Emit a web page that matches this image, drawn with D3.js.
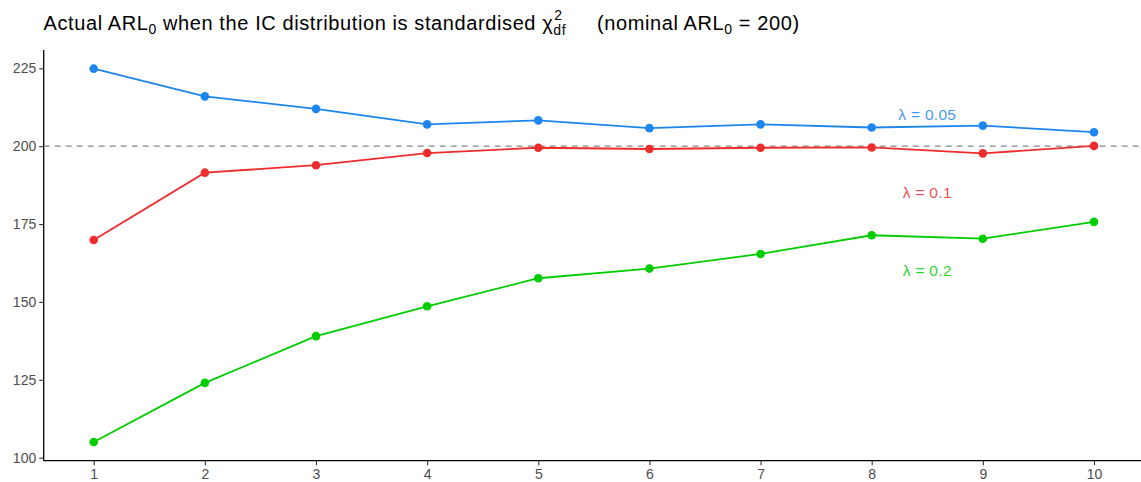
<!DOCTYPE html>
<html>
<head>
<meta charset="utf-8">
<script src="https://cdn.jsdelivr.net/npm/d3@7"></script>
<style>
  body { margin: 0; background: #fff; }
  text { font-family: "Liberation Sans", Arial, sans-serif; }
</style>
</head>
<body>
<svg id="chart"></svg>
<script>
// data
const df = [1, 2, 3, 4, 5, 6, 7, 8, 9, 10];
const arl005 = [224.9, 216.0, 212.0, 207.0, 208.3, 205.8, 207.0, 206.0, 206.6, 204.5];
const arl01 = [169.9, 191.5, 193.9, 197.8, 199.5, 199.1, 199.5, 199.6, 197.7, 200.1];
const arl02 = [105.0, 124.0, 139.0, 148.6, 157.6, 160.7, 165.4, 171.4, 170.3, 175.7];
const lambdas = ["0.05", "0.1", "0.2"];
const colours = ["#1C86EE", "#EE2C2C", "#00CD00"];
const labelX = [8.5, 8.5, 8.5];
const labelY = [210, 185, 160];
const nominal = 200;
const yTicks = [100, 125, 150, 175, 200, 225];

const width = 1141, height = 482;
const margin = {top: 50, right: -3, bottom: 21.3, left: 43.7};

const svg = d3.select("#chart")
    .attr("width", width)
    .attr("height", height);

const series = [arl005, arl01, arl02];

// ggplot style 5% expansion
const allY = series.flat();
const yMin = d3.min(allY), yMax = d3.max(allY);
const yPad = (yMax - yMin) * 0.05;
const xPad = (d3.max(df) - d3.min(df)) * 0.05;

const x = d3.scaleLinear()
    .domain([d3.min(df) - xPad, d3.max(df) + xPad])
    .range([margin.left, width - margin.right]);
const y = d3.scaleLinear()
    .domain([yMin - yPad, yMax + yPad])
    .range([height - margin.bottom, margin.top]);

// reference line
svg.append("line")
    .attr("x1", x.range()[0]).attr("x2", x.range()[1])
    .attr("y1", y(nominal)).attr("y2", y(nominal))
    .attr("stroke", "#888")
    .attr("stroke-width", 1.3)
    .attr("stroke-dasharray", "6,5");

// lines + points
const line = d3.line()
    .x((d, i) => x(df[i]))
    .y(d => y(d));

series.forEach((s, k) => {
    svg.append("path")
        .datum(s)
        .attr("fill", "none")
        .attr("stroke", colours[k])
        .attr("stroke-width", 1.8)
        .attr("d", line);
    svg.selectAll(null)
        .data(s)
        .join("circle")
        .attr("cx", (d, i) => x(df[i]))
        .attr("cy", d => y(d))
        .attr("r", 4.3)
        .attr("fill", colours[k]);
});

// annotations
lambdas.forEach((l, k) => {
    svg.append("text")
        .attr("x", x(labelX[k]))
        .attr("y", y(labelY[k]))
        .attr("dy", "0.35em")
        .attr("text-anchor", "middle")
        .attr("fill", colours[k])
        .attr("fill-opacity", 0.85)
        .style("font-size", "15.5px")
        .style("letter-spacing", "0.3px")
        .text("λ = " + l);
});

// axes
const yAxis = svg.append("g")
    .attr("transform", `translate(${margin.left},0)`)
    .call(d3.axisLeft(y).tickValues(yTicks).tickSize(4.5).tickPadding(3));
const xAxis = svg.append("g")
    .attr("transform", `translate(0,${height - margin.bottom})`)
    .call(d3.axisBottom(x).tickValues(df).tickSize(4.5).tickPadding(4));

[xAxis, yAxis].forEach(ax => {
    ax.select(".domain").attr("stroke", "#000").attr("stroke-width", 1.3);
    ax.selectAll(".tick line").attr("stroke", "#333").attr("stroke-width", 1.1);
    ax.selectAll(".tick text")
        .attr("fill", "#4d4d4d")
        .style("font-size", "14px")
        .style("font-family", "'Liberation Sans', Arial, sans-serif");
});
// extend the axis lines to the panel edges
yAxis.select(".domain").attr("d", `M0,${y.range()[0]}V${y.range()[1]}`);
xAxis.select(".domain").attr("d", `M${x.range()[0]},0H${x.range()[1]}`);

// title with sub/superscripts
const title = svg.append("text")
    .attr("x", 43.5)
    .attr("y", 29.5)
    .attr("fill", "#000")
    .style("font-size", "20px")
    .style("letter-spacing", "0.6px");
title.append("tspan").text("Actual ARL");
title.append("tspan").attr("dy", 4).style("font-size", "14px").text("0");
title.append("tspan").attr("dy", -4).text(" when the IC distribution is standardised ");
title.append("tspan").text("χ");
const sup = title.append("tspan").attr("dx", 1).attr("dy", -10).style("font-size", "14px").text("2");
const supW = sup.node().getComputedTextLength();
title.append("tspan").attr("dx", -supW - 1).attr("dy", 15).style("font-size", "14px").text("df");
title.append("tspan").attr("dy", -5).text("\u00a0\u00a0\u00a0\u00a0 (nominal ARL");
title.append("tspan").attr("dy", 4).style("font-size", "14px").text("0");
title.append("tspan").attr("dy", -4).text(" = 200)");
</script>
</body>
</html>
